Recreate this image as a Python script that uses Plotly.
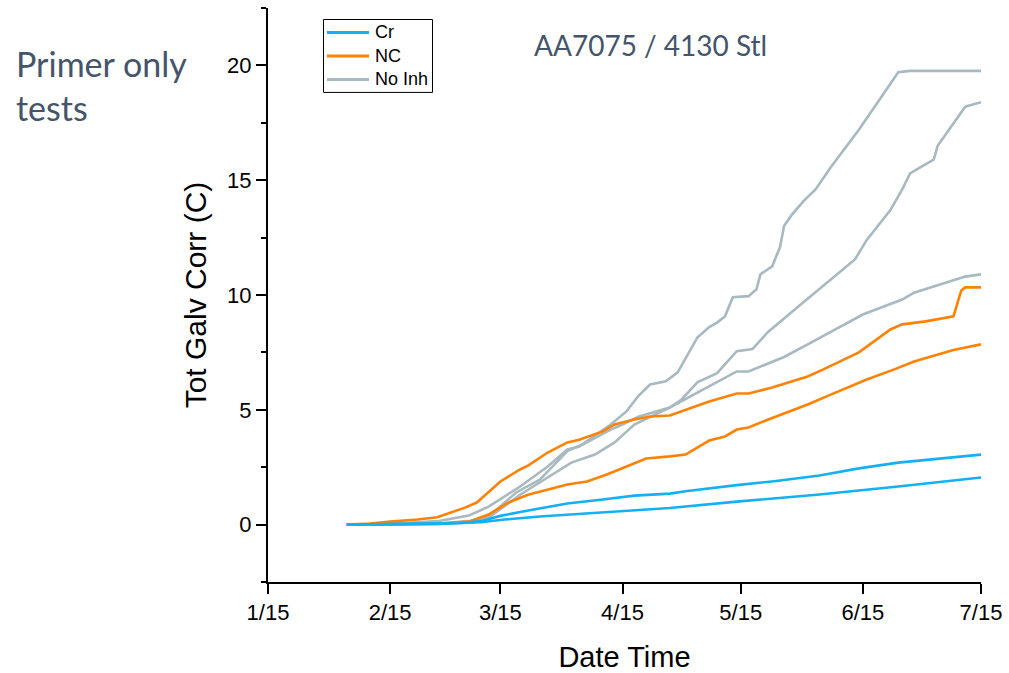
import plotly.graph_objects as go

# ---------------- data ----------------
cr1_dates = ["2019-02-04", "2019-02-15", "2019-02-27", "2019-03-05", "2019-03-10", "2019-03-15",
             "2019-03-20", "2019-03-25", "2019-04-01", "2019-04-10", "2019-04-18", "2019-04-27",
             "2019-05-01", "2019-05-14", "2019-05-24", "2019-06-04", "2019-06-14", "2019-06-24",
             "2019-07-05", "2019-07-15"]
cr1_vals = [0.0, 0.02, 0.05, 0.07, 0.15, 0.38, 0.55, 0.70, 0.92, 1.09, 1.26, 1.35,
            1.45, 1.72, 1.90, 2.14, 2.45, 2.70, 2.90, 3.05]

cr2_dates = ["2019-02-04", "2019-02-27", "2019-03-10", "2019-03-16", "2019-03-25", "2019-04-07",
             "2019-04-18", "2019-04-27", "2019-05-14", "2019-06-04", "2019-06-24", "2019-07-15"]
cr2_vals = [0.0, 0.03, 0.10, 0.22, 0.35, 0.50, 0.60, 0.72, 1.00, 1.31, 1.66, 2.05]

nc1_dates = ["2019-02-04", "2019-02-10", "2019-02-15", "2019-02-22", "2019-02-27", "2019-03-03",
             "2019-03-06", "2019-03-09", "2019-03-15", "2019-03-20", "2019-03-22", "2019-03-27",
             "2019-04-01", "2019-04-04", "2019-04-10", "2019-04-13", "2019-04-18", "2019-04-22",
             "2019-04-27", "2019-05-07", "2019-05-14", "2019-05-17", "2019-05-23", "2019-06-01",
             "2019-06-05", "2019-06-14", "2019-06-22", "2019-06-25", "2019-07-01", "2019-07-08",
             "2019-07-10", "2019-07-11", "2019-07-15"]
nc1_vals = [0.0, 0.05, 0.13, 0.22, 0.32, 0.55, 0.74, 0.96, 1.88, 2.40, 2.57, 3.14,
            3.58, 3.70, 4.06, 4.36, 4.58, 4.71, 4.75, 5.36, 5.71, 5.71, 5.97, 6.45,
            6.76, 7.50, 8.50, 8.72, 8.85, 9.07, 10.20, 10.33, 10.33]

nc2_dates = ["2019-02-04", "2019-02-27", "2019-03-07", "2019-03-12", "2019-03-17", "2019-03-22",
             "2019-04-01", "2019-04-06", "2019-04-11", "2019-04-16", "2019-04-21", "2019-04-27",
             "2019-05-01", "2019-05-07", "2019-05-11", "2019-05-14", "2019-05-17", "2019-05-22",
             "2019-06-01", "2019-06-07", "2019-06-16", "2019-06-23", "2019-06-28", "2019-07-08",
             "2019-07-15"]
nc2_vals = [0.0, 0.03, 0.13, 0.44, 0.96, 1.30, 1.75, 1.88, 2.18, 2.53, 2.88, 2.97,
            3.05, 3.66, 3.84, 4.14, 4.23, 4.58, 5.23, 5.67, 6.32, 6.76, 7.10, 7.60,
            7.85]

ni1_dates = ["2019-02-04", "2019-02-15", "2019-02-27", "2019-03-07", "2019-03-12", "2019-03-20",
             "2019-03-27", "2019-04-01", "2019-04-04", "2019-04-09", "2019-04-12", "2019-04-16",
             "2019-04-19", "2019-04-22", "2019-04-26", "2019-04-29", "2019-05-04", "2019-05-07",
             "2019-05-09", "2019-05-11", "2019-05-13", "2019-05-17", "2019-05-19", "2019-05-20",
             "2019-05-23", "2019-05-25", "2019-05-26", "2019-05-28", "2019-05-31", "2019-06-03",
             "2019-06-07", "2019-06-14", "2019-06-24", "2019-06-27", "2019-07-15"]
ni1_vals = [0.0, 0.03, 0.15, 0.40, 0.78, 1.66, 2.53, 3.27, 3.40, 4.00, 4.36, 4.93,
            5.60, 6.10, 6.24, 6.63, 8.15, 8.60, 8.80, 9.07, 9.90, 9.95, 10.25, 10.90,
            11.25, 12.10, 13.00, 13.50, 14.10, 14.60, 15.60, 17.20, 19.70, 19.76, 19.76]

ni2_dates = ["2019-02-04", "2019-02-27", "2019-03-07", "2019-03-12", "2019-03-19", "2019-03-25",
             "2019-04-01", "2019-04-05", "2019-04-12", "2019-04-15", "2019-04-19", "2019-04-27",
             "2019-04-30", "2019-05-04", "2019-05-09", "2019-05-14", "2019-05-18", "2019-05-22",
             "2019-05-31", "2019-06-05", "2019-06-13", "2019-06-16", "2019-06-22", "2019-06-25",
             "2019-06-27", "2019-06-30", "2019-07-03", "2019-07-04", "2019-07-09", "2019-07-11",
             "2019-07-15"]
ni2_vals = [0.0, 0.05, 0.15, 0.35, 1.40, 1.96, 3.20, 3.50, 4.14, 4.36, 4.70, 5.10,
            5.45, 6.20, 6.60, 7.55, 7.65, 8.40, 9.70, 10.40, 11.55, 12.40, 13.70, 14.60,
            15.30, 15.60, 15.90, 16.50, 17.70, 18.20, 18.40]

ni3_dates = ["2019-02-04", "2019-02-27", "2019-03-07", "2019-03-12", "2019-03-20", "2019-03-25",
             "2019-04-02", "2019-04-08", "2019-04-13", "2019-04-18", "2019-04-22", "2019-04-27",
             "2019-05-04", "2019-05-09", "2019-05-14", "2019-05-17", "2019-05-26", "2019-06-01",
             "2019-06-15", "2019-06-25", "2019-06-28", "2019-07-11", "2019-07-15"]
ni3_vals = [0.0, 0.04, 0.12, 0.30, 1.30, 1.83, 2.70, 3.05, 3.58, 4.36, 4.70, 5.10,
            5.75, 6.20, 6.67, 6.67, 7.30, 7.85, 9.15, 9.80, 10.10, 10.80, 10.90]

x_tick_vals = ["2019-01-15", "2019-02-15", "2019-03-15", "2019-04-15",
               "2019-05-15", "2019-06-15", "2019-07-15"]
x_tick_text = ["1/15", "2/15", "3/15", "4/15", "5/15", "6/15", "7/15"]
y_tick_vals = [0, 5, 10, 15, 20]
legend_names = ["Cr", "NC", "No Inh"]

# ---------------- styling ----------------
C_CR = "#14B1F2"
C_NC = "#FF8205"
C_NI = "#A8B9C0"
legend_colors = [C_CR, C_NC, C_NI]
LW = 2.6
ARIAL = "Arial, Liberation Sans, sans-serif"

# plot-area geometry (px)
W, H = 1009, 673
ML, MR, MT, MB = 268, 28, 8, 90.5
PW, PH = W - ML - MR, H - MT - MB


def px_x(x):
    return (x - ML) / PW


def px_y(y):
    return 1 - (y - MT) / PH


fig = go.Figure()

series = [
    (ni1_dates, ni1_vals, C_NI, "No Inh"),
    (ni2_dates, ni2_vals, C_NI, "No Inh"),
    (ni3_dates, ni3_vals, C_NI, "No Inh"),
    (nc1_dates, nc1_vals, C_NC, "NC"),
    (nc2_dates, nc2_vals, C_NC, "NC"),
    (cr1_dates, cr1_vals, C_CR, "Cr"),
    (cr2_dates, cr2_vals, C_CR, "Cr"),
]
for d, v, c, name in series:
    fig.add_trace(go.Scatter(
        x=d, y=v, mode="lines", name=name, showlegend=False,
        line=dict(color=c, width=LW),
    ))

axis_font = dict(family=ARIAL, size=22, color="black")

fig.update_layout(
    width=W, height=H,
    margin=dict(l=ML, r=MR, t=MT, b=MB, autoexpand=False),
    paper_bgcolor="white", plot_bgcolor="white",
    showlegend=False,
    xaxis=dict(
        type="date", automargin=False,
        range=["2019-01-15", "2019-07-15"],
        tickvals=x_tick_vals, ticktext=x_tick_text,
        showgrid=False, zeroline=False,
        showline=True, linecolor="black", linewidth=2,
        ticks="outside", ticklen=10, tickwidth=2, tickcolor="black",
        tickfont=axis_font,
        title=dict(text="Date Time", font=dict(family=ARIAL, size=29, color="black"), standoff=25),
    ),
    yaxis=dict(
        range=[-2.5, 22.5], automargin=False,
        tickvals=y_tick_vals,
        showgrid=False, zeroline=False,
        showline=True, linecolor="black", linewidth=2,
        ticks="outside", ticklen=10, tickwidth=2, tickcolor="black",
        tickfont=axis_font,
        minor=dict(ticks="outside", ticklen=5, tickwidth=2, tickcolor="black",
                   tickvals=[-2.5, 2.5, 7.5, 12.5, 17.5, 22.5], showgrid=False),
        title=dict(text="Tot Galv Corr (C)", font=dict(family=ARIAL, size=30, color="black"), standoff=12),
    ),
)

# ---- legend box (drawn to match the reference's compact legend) ----
box_x0, box_x1, box_y0, box_y1 = 323.5, 432.5, 19.5, 92.5
fig.add_shape(type="rect", xref="paper", yref="paper",
              x0=px_x(box_x0), x1=px_x(box_x1), y0=px_y(box_y1), y1=px_y(box_y0),
              line=dict(color="black", width=1), fillcolor="white", layer="above")
row_y = [32.5, 56, 79.5]
for name, col, ry in zip(legend_names, legend_colors, row_y):
    fig.add_shape(type="line", xref="paper", yref="paper",
                  x0=px_x(327), x1=px_x(369), y0=px_y(ry), y1=px_y(ry),
                  line=dict(color=col, width=3), layer="above")
    fig.add_annotation(text=name, xref="paper", yref="paper",
                       x=px_x(373), y=px_y(ry), xanchor="left", yanchor="middle",
                       showarrow=False, font=dict(family=ARIAL, size=18, color="black"))

fig.add_annotation(
    text="AA7075 / 4130 Stl", xref="paper", yref="paper",
    x=px_x(650), y=px_y(45), xanchor="center", yanchor="middle",
    showarrow=False, font=dict(family="Lato, Open Sans, sans-serif", size=28, color="#44546A"),
)
fig.add_annotation(
    text="Primer only<br>tests", xref="paper", yref="paper",
    x=px_x(14), y=px_y(41), xanchor="left", yanchor="top",
    align="left", showarrow=False,
    font=dict(family="Lato, Open Sans, sans-serif", size=34, color="#44546A"),
)

fig.write_html("out.html")
